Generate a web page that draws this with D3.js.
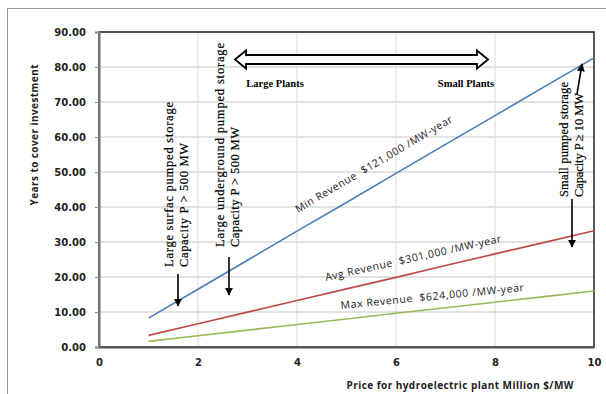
<!DOCTYPE html>
<html><head><meta charset="utf-8">
<script src="https://cdn.jsdelivr.net/npm/d3@7"></script>
<style>body{margin:0;background:#fff}svg{display:block}</style>
</head><body>
<script>
const price = [1,2,3,4,5,6,7,8,9,10];
const minRevenue = [8.26,16.5,24.8,33.1,41.3,49.6,57.9,66.1,74.4,82.6];
const avgRevenue = [3.32,6.64,9.97,13.3,16.6,19.9,23.3,26.6,29.9,33.2];
const maxRevenue = [1.60,3.21,4.81,6.41,8.01,9.62,11.2,12.8,14.4,16.0];
const yTicks = [0,10,20,30,40,50,60,70,80,90];
const xTicks = [0,2,4,6,8,10];
const seriesNames = ["Min Revenue\u00a0 $121,000 /MW-year","Avg Revenue\u00a0 $301,000 /MW-year","Max Revenue\u00a0 $624,000 /MW-year"];
const yTitle = "Years to cover investment";
const xTitle = "Price for hydroelectric plant Million $/MW";

const W=606,H=394;
const svg=d3.select("body").append("svg").attr("width",W).attr("height",H);
svg.append("rect").attr("x",7.5).attr("y",8.5).attr("width",640).attr("height",420).attr("fill","#fff").attr("stroke","#9a9a9a");

const x=d3.scaleLinear().domain([0,10]).range([99,594]);
const y=d3.scaleLinear().domain([0,90]).range([347,32]);

// grid
svg.append("g").selectAll("line").data(yTicks.slice(1)).join("line")
  .attr("x1",x(0)).attr("x2",x(10)).attr("y1",d=>y(d)).attr("y2",d=>y(d))
  .attr("stroke","#d9d9d9").attr("stroke-width",1.6);
svg.append("g").selectAll("line").data(xTicks.slice(1,-1)).join("line")
  .attr("x1",d=>x(d)).attr("x2",d=>x(d)).attr("y1",y(0)).attr("y2",y(90))
  .attr("stroke","#d9d9d9").attr("stroke-width",1);

// plot border
svg.append("rect").attr("x",x(0)).attr("y",y(90)).attr("width",x(10)-x(0)).attr("height",y(0)-y(90))
  .attr("fill","none").attr("stroke","#222").attr("stroke-width",1.5);

// axes
const yAxis=svg.append("g").attr("transform",`translate(${x(0)},0)`)
  .call(d3.axisLeft(y).tickValues(yTicks).tickFormat(d3.format(".2f")).tickSize(4).tickPadding(8));
yAxis.select(".domain").attr("stroke","#7a7a7a").attr("stroke-width",2.2);
yAxis.selectAll(".tick line").attr("stroke","#8a8a8a");
yAxis.selectAll("text").attr("font-family","DejaVu Sans").attr("font-weight","bold").attr("font-size",10).attr("fill","#222");
yAxis.selectAll(".tick text").attr("x",-13);

const xAxis=svg.append("g").attr("transform",`translate(0,${y(0)})`)
  .call(d3.axisBottom(x).tickValues(xTicks).tickFormat(d3.format("d")).tickSize(0).tickPadding(12));
xAxis.select(".domain").attr("stroke","#555").attr("stroke-width",2);
xAxis.selectAll("text").attr("font-family","DejaVu Sans").attr("font-weight","bold").attr("font-size",10).attr("fill","#222");

// lines
const colors=["#4a7ebb","#be4b48","#98b954"];
const data=[minRevenue,avgRevenue,maxRevenue];
const line=d3.line().x((d,i)=>x(price[i])).y(d=>y(d));
svg.append("g").selectAll("path").data(data).join("path")
  .attr("d",line).attr("fill","none").attr("stroke",(d,i)=>colors[i]).attr("stroke-width",1.6);

// series labels
const lab=[{x:298,y:213,a:-30.5,l:180},{x:326,y:281,a:-12.5,l:180},{x:341,y:309,a:-5.6,l:184}];
svg.append("g").selectAll("text").data(seriesNames).join("text")
  .attr("transform",(d,i)=>`translate(${lab[i].x},${lab[i].y}) rotate(${lab[i].a})`)
  .attr("font-family","Open Sans").attr("font-size",10.5).attr("fill","#222")
  .attr("textLength",(d,i)=>lab[i].l).attr("lengthAdjust","spacing")
  .text(d=>d);

// titles
svg.append("text").attr("transform","translate(38,135) rotate(-90)").attr("text-anchor","middle")
  .attr("font-family","Open Sans").attr("font-weight","bold").attr("font-size",10).attr("fill","#222")
  .attr("textLength",141).attr("lengthAdjust","spacing").text(yTitle);
svg.append("text").attr("x",460).attr("y",389).attr("text-anchor","middle")
  .attr("font-family","Open Sans").attr("font-weight","bold").attr("font-size",10).attr("fill","#222")
  .attr("textLength",227).attr("lengthAdjust","spacing").text(xTitle);

// vertical annotations
const notes=[
  {x:173,y:267,t:"Large surfac pumped storage",l:165},
  {x:188,y:267,t:"Capacity P > 500 MW",l:124},
  {x:224,y:247,t:"Large underground pumped storage",l:204},
  {x:239,y:247,t:"Capacity P > 500 MW",l:120},
  {x:568,y:197,t:"Small pumped storage",l:115},
  {x:583,y:197,t:"Capacity P \u2265 10 MW",l:104}
];
svg.append("g").selectAll("text").data(notes).join("text")
  .attr("transform",d=>`translate(${d.x},${d.y}) rotate(-90)`)
  .attr("font-family","Liberation Serif").attr("font-size",12.5).attr("fill","#000")
  .attr("stroke","#000").attr("stroke-width",0.2)
  .attr("textLength",d=>d.l).attr("lengthAdjust","spacing").text(d=>d.t);

svg.append("text").attr("x",275).attr("y",87).attr("text-anchor","middle")
  .attr("font-family","Liberation Serif").attr("font-weight","bold").attr("font-size",10.5).text("Large Plants");
svg.append("text").attr("x",466).attr("y",87).attr("text-anchor","middle")
  .attr("font-family","Liberation Serif").attr("font-weight","bold").attr("font-size",10.5).text("Small Plants");

// arrows
const defs=svg.append("defs");
defs.append("marker").attr("id","ah").attr("viewBox","0 0 10 10").attr("refX",9).attr("refY",5)
  .attr("markerWidth",5).attr("markerHeight",5).attr("orient","auto")
  .append("path").attr("d","M0,0L10,5L0,10z").attr("fill","#000");
const arrows=[[178,274,178,306],[229,257,229,295],[572,199,572,247],[577,94,582,64]];
svg.append("g").selectAll("line").data(arrows).join("line")
  .attr("x1",d=>d[0]).attr("y1",d=>d[1]).attr("x2",d=>d[2]).attr("y2",d=>d[3])
  .attr("stroke","#000").attr("stroke-width",1.6).attr("marker-end","url(#ah)");

// double block arrow
const cy=59.5, x0=235, x1=488;
const p=`M${x0},${cy} L${x0+11},${cy-9} L${x0+11},${cy-4.5} L${x1-11},${cy-4.5} L${x1-11},${cy-9} L${x1},${cy} L${x1-11},${cy+9} L${x1-11},${cy+4.5} L${x0+11},${cy+4.5} L${x0+11},${cy+9} Z`;
svg.append("path").attr("d",p).attr("fill","#fff").attr("stroke","#000").attr("stroke-width",1.8).attr("stroke-linejoin","miter");
</script>
</body></html>
